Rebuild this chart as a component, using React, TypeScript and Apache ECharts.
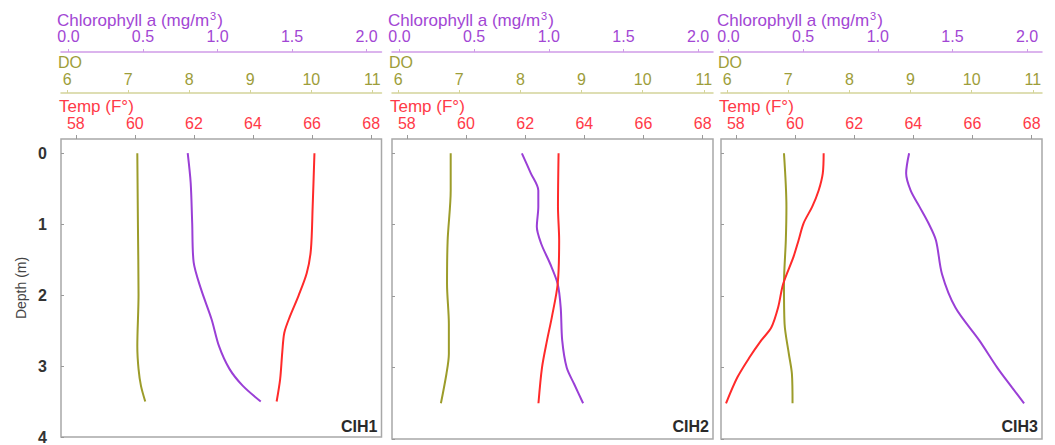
import React, { useEffect, useRef } from "react";
import * as echarts from "echarts";

// ---------- data ----------
const DEPTH_TICKS = [0, 1, 2, 3, 4];
const TEMP_TICKS = [58, 60, 62, 64, 66, 68];
const DO_TICKS = [6, 7, 8, 9, 10, 11];
const CHL_TICKS = [0, 0.5, 1.0, 1.5, 2.0];
const PANEL_NAMES = ["CIH1", "CIH2", "CIH3"];

// CIH1
const CIH1_TEMP_DEPTH = [0, 0.75, 1.36, 1.69, 2.01, 2.3, 2.53, 2.81, 3.18, 3.5];
const CIH1_TEMP = [66.08, 66.02, 65.96, 65.82, 65.54, 65.25, 65.06, 64.99, 64.92, 64.8];
const CIH1_DO_DEPTH = [0, 1, 2, 2.72, 3.04, 3.28, 3.5];
const CIH1_DO = [7.15, 7.16, 7.17, 7.15, 7.17, 7.21, 7.28];
const CIH1_CHL_DEPTH = [0, 0.42, 0.98, 1.54, 1.92, 2.34, 2.72, 3.04, 3.28, 3.5];
const CIH1_CHL = [0.8, 0.82, 0.83, 0.84, 0.89, 0.96, 1.01, 1.08, 1.17, 1.29];

// CIH2
const CIH2_TEMP_DEPTH = [0, 0.75, 1.22, 1.83, 2.3, 2.62, 3.0, 3.5];
const CIH2_TEMP = [63.13, 63.11, 63.15, 63.1, 62.9, 62.74, 62.57, 62.45];
const CIH2_DO_DEPTH = [0, 0.52, 1.22, 1.83, 2.39, 2.81, 3.09, 3.5];
const CIH2_DO = [6.86, 6.86, 6.81, 6.8, 6.83, 6.83, 6.79, 6.7];
const CIH2_CHL_DEPTH = [0, 0.28, 0.52, 0.75, 1.03, 1.27, 1.55, 1.83, 2.16, 2.62, 3.0, 3.23, 3.5];
const CIH2_CHL = [0.82, 0.88, 0.93, 0.93, 0.92, 0.95, 1.01, 1.06, 1.08, 1.09, 1.12, 1.17, 1.23];

// CIH3
const CIH3_TEMP_DEPTH = [0, 0.28, 0.52, 0.75, 0.98, 1.22, 1.45, 1.83, 2.16, 2.44, 2.62, 2.86, 3.14, 3.5];
const CIH3_TEMP = [60.97, 60.94, 60.8, 60.58, 60.29, 60.12, 59.95, 59.6, 59.43, 59.2, 58.86, 58.46, 58.05, 57.67];
const CIH3_DO_DEPTH = [0, 0.75, 1.22, 1.83, 2.39, 2.81, 3.09, 3.5];
const CIH3_DO = [6.93, 6.97, 6.96, 6.93, 6.94, 7.01, 7.06, 7.07];
const CIH3_CHL_DEPTH = [0, 0.28, 0.52, 0.75, 0.98, 1.22, 1.69, 2.16, 2.62, 3.0, 3.28, 3.5];
const CIH3_CHL = [1.21, 1.19, 1.22, 1.28, 1.34, 1.39, 1.43, 1.52, 1.68, 1.8, 1.9, 1.98];

const PANELS = [
  { temp: [CIH1_TEMP, CIH1_TEMP_DEPTH], dox: [CIH1_DO, CIH1_DO_DEPTH], chl: [CIH1_CHL, CIH1_CHL_DEPTH] },
  { temp: [CIH2_TEMP, CIH2_TEMP_DEPTH], dox: [CIH2_DO, CIH2_DO_DEPTH], chl: [CIH2_CHL, CIH2_CHL_DEPTH] },
  { temp: [CIH3_TEMP, CIH3_TEMP_DEPTH], dox: [CIH3_DO, CIH3_DO_DEPTH], chl: [CIH3_CHL, CIH3_CHL_DEPTH] },
];

// ---------- style ----------
const FONT = "'Liberation Sans', Arial, sans-serif";
const RED = "#ff2a2a";
const RED_TEXT = "#ff3a48";
const OLIVE = "#9c9c2a";
const OLIVE_TEXT = "#9d9d3a";
const OLIVE_AXIS = "#d4d49a";
const PURPLE = "#9a3fd6";
const PURPLE_TEXT = "#a246d4";
const PURPLE_AXIS = "#cf9ce8";
const BORDER = "#a8a8a8";

const GRID_TOP = 139;
const GRID_HEIGHT = 300;
const GRID_BOXES = [
  { left: 61, width: 320.5 },
  { left: 392, width: 321 },
  { left: 721, width: 321 },
];

const zip = (xs: number[], ys: number[]) => xs.map((x, i) => [x, ys[i]]);

export default function App() {
  const ref = useRef<HTMLDivElement>(null);

  useEffect(() => {
    if (!ref.current) return;
    const chart = echarts.init(ref.current, undefined, { renderer: "svg" });

    const grid: any[] = [];
    const xAxis: any[] = [];
    const yAxis: any[] = [];
    const series: any[] = [];
    const graphic: any[] = [];

    GRID_BOXES.forEach((g, i) => {
      grid.push({
        left: g.left,
        top: GRID_TOP,
        width: g.width,
        height: GRID_HEIGHT,
        show: true,
        borderColor: BORDER,
        borderWidth: 1.5,
        backgroundColor: "transparent",
      });

      // Temp axis (box top)
      xAxis.push({
        type: "value",
        gridIndex: i,
        position: "top",
        offset: 0,
        min: 57.5,
        max: 68.35,
        axisLine: { show: false, onZero: false },
        axisTick: { show: true, length: 4, lineStyle: { color: "#999" }, customValues: TEMP_TICKS },
        axisLabel: { customValues: TEMP_TICKS, color: RED_TEXT, fontSize: 16, fontFamily: FONT, margin: 8 },
        splitLine: { show: false },
      });
      // DO axis
      xAxis.push({
        type: "value",
        gridIndex: i,
        position: "top",
        offset: 46,
        min: 5.9,
        max: 11.15,
        axisLine: { show: true, onZero: false, lineStyle: { color: OLIVE_AXIS, width: 1.5 } },
        axisTick: { show: true, length: 3, lineStyle: { color: OLIVE_AXIS }, customValues: DO_TICKS },
        axisLabel: { customValues: DO_TICKS, color: OLIVE_TEXT, fontSize: 16, fontFamily: FONT, margin: 6 },
        splitLine: { show: false },
      });
      // Chlorophyll axis
      xAxis.push({
        type: "value",
        gridIndex: i,
        position: "top",
        offset: 87,
        min: -0.05,
        max: 2.1,
        axisLine: { show: true, onZero: false, lineStyle: { color: PURPLE_AXIS, width: 1.5 } },
        axisTick: { show: true, length: 3, lineStyle: { color: PURPLE_AXIS }, customValues: CHL_TICKS },
        axisLabel: {
          customValues: CHL_TICKS,
          color: PURPLE_TEXT,
          fontSize: 16,
          fontFamily: FONT,
          margin: 8,
          formatter: (v: number) => v.toFixed(1),
        },
        splitLine: { show: false },
      });

      yAxis.push({
        type: "value",
        gridIndex: i,
        inverse: true,
        min: -0.2,
        max: 4,
        axisLine: { show: false, onZero: false },
        axisTick: { show: true, inside: true, length: 3, lineStyle: { color: "#999" }, customValues: DEPTH_TICKS },
        axisLabel: {
          show: i === 0,
          customValues: DEPTH_TICKS,
          color: "#333",
          fontSize: 16,
          fontWeight: "bold",
          fontFamily: FONT,
          margin: 14,
        },
        splitLine: { show: false },
        name: i === 0 ? "Depth (m)" : "",
        nameLocation: "middle",
        nameRotate: 90,
        nameGap: 33,
        nameMoveOverlap: false,
        nameTextStyle: { color: "#444", fontSize: 14, fontFamily: FONT },
      });

      const p = PANELS[i];
      const base = i * 3;
      series.push({
        type: "line",
        xAxisIndex: base,
        yAxisIndex: i,
        data: zip(p.temp[0], p.temp[1]),
        showSymbol: false,
        symbol: "none",
        smooth: 0.3,
        lineStyle: { color: RED, width: 2 },
        z: 3,
      });
      series.push({
        type: "line",
        xAxisIndex: base + 1,
        yAxisIndex: i,
        data: zip(p.dox[0], p.dox[1]),
        showSymbol: false,
        symbol: "none",
        smooth: 0.3,
        lineStyle: { color: OLIVE, width: 2 },
        z: 2,
      });
      series.push({
        type: "line",
        xAxisIndex: base + 2,
        yAxisIndex: i,
        data: zip(p.chl[0], p.chl[1]),
        showSymbol: false,
        symbol: "none",
        smooth: 0.3,
        lineStyle: { color: PURPLE, width: 2 },
        z: 2,
      });

      graphic.push(
        {
          type: "text",
          x: g.left - 4,
          y: 20,
          style: {
            text: "{a|Chlorophyll a (mg/m}{s|3}{a|)}",
            fill: PURPLE_TEXT,
            fontSize: 17,
            fontFamily: FONT,
            verticalAlign: "middle",
            rich: {
              a: { fontSize: 17, fontFamily: FONT, fill: PURPLE_TEXT },
              s: { fontSize: 11, fontFamily: FONT, fill: PURPLE_TEXT, padding: [0, 1, 9, 1] },
            },
          },
        },
        {
          type: "text",
          x: g.left - 3,
          y: 62,
          style: { text: "DO", fill: OLIVE_TEXT, fontSize: 16, fontFamily: FONT, verticalAlign: "middle" },
        },
        {
          type: "text",
          x: g.left - 2,
          y: 106,
          style: { text: "Temp (F°)", fill: RED_TEXT, fontSize: 17, fontFamily: FONT, verticalAlign: "middle" },
        },
        {
          type: "text",
          x: g.left + g.width - 4,
          y: 426,
          style: {
            text: PANEL_NAMES[i],
            fill: "#2a2a2a",
            fontSize: 16,
            fontWeight: "bold",
            fontFamily: FONT,
            align: "right",
            verticalAlign: "middle",
          },
        }
      );
    });

    chart.setOption({
      animation: false,
      backgroundColor: "#ffffff",
      grid,
      xAxis,
      yAxis,
      series,
      graphic,
    });

    return () => chart.dispose();
  }, []);

  return (
    <div
      ref={ref}
      style={{ position: "absolute", left: 0, top: 0, width: 1055, height: 445 }}
    />
  );
}
